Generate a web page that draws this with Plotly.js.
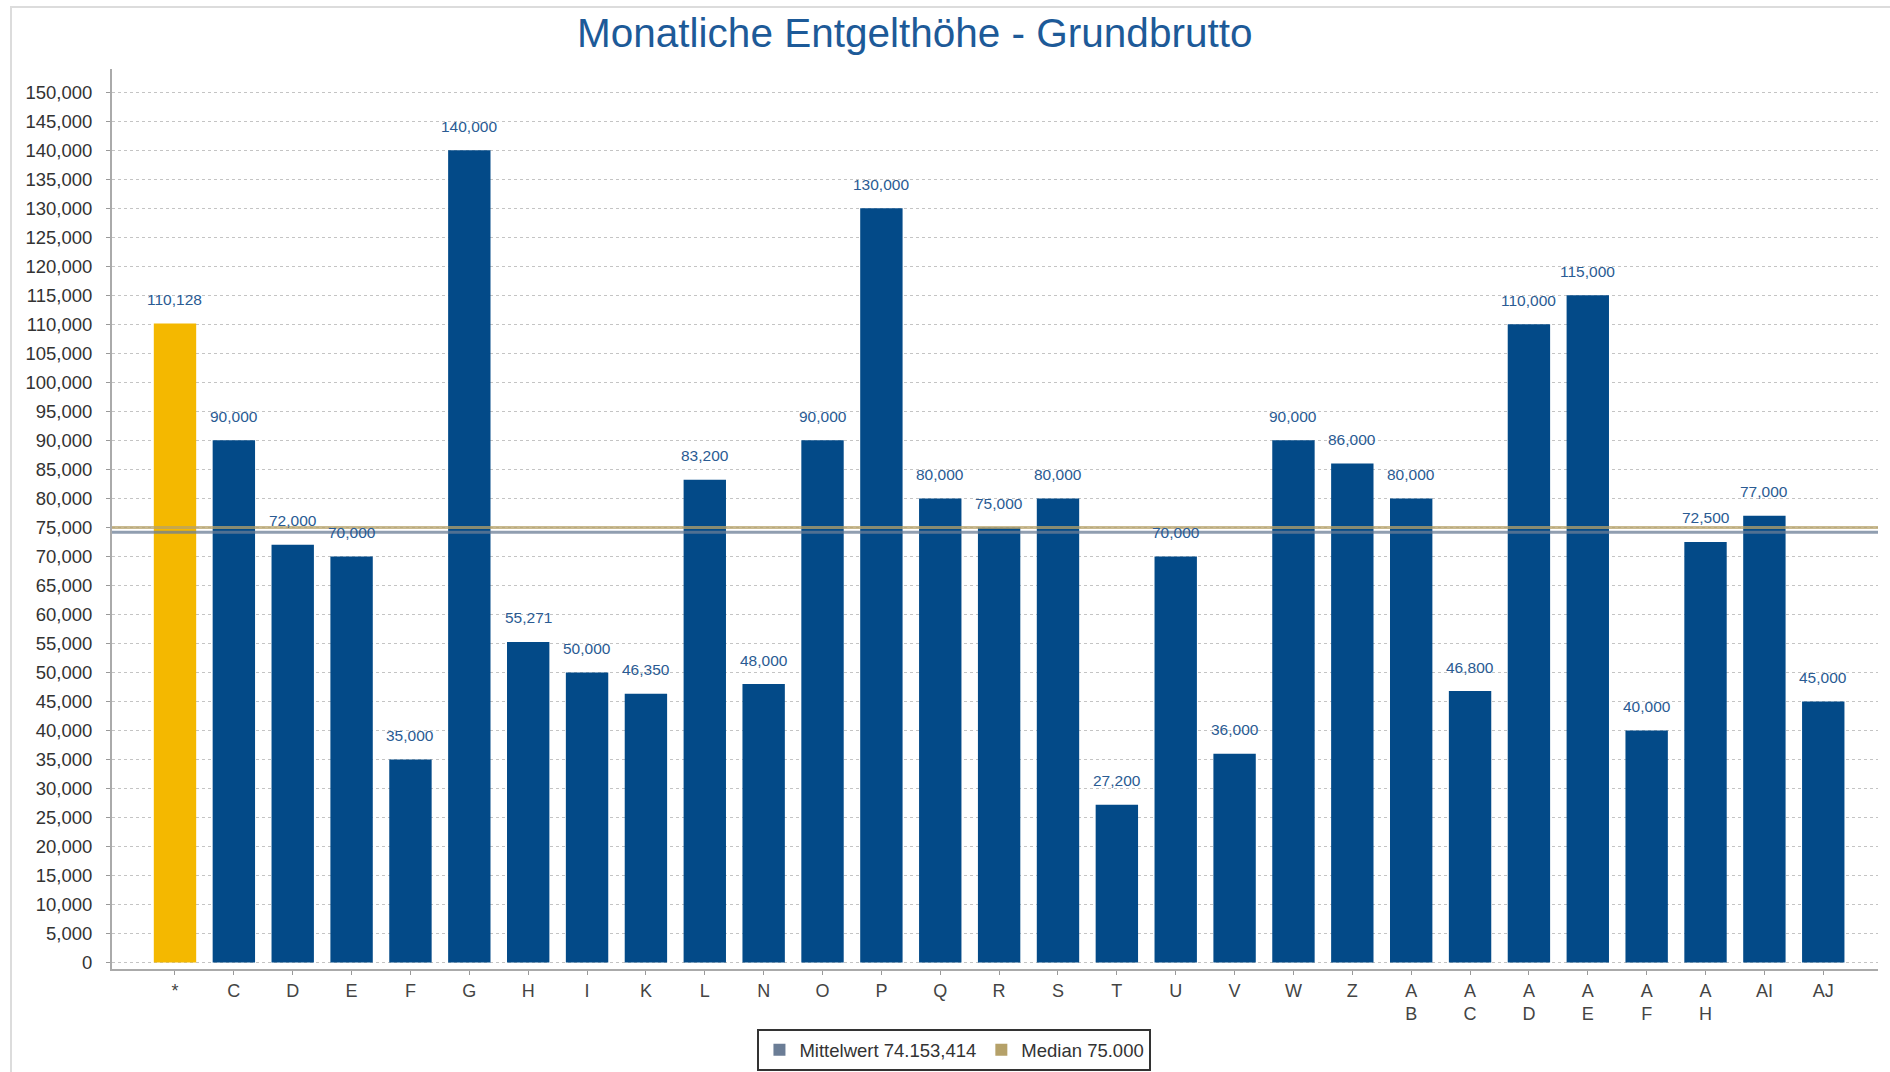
<!DOCTYPE html>
<html>
<head>
<meta charset="utf-8">
<script src="https://cdn.plot.ly/plotly-3.0.1.min.js"></script>
<style>
  html, body { margin: 0; padding: 0; background: #fff; }
  #chart { position: absolute; left: 0; top: 0; width: 1890px; height: 1072px; }
  #frame { position: absolute; left: 10px; top: 6px; width: 1900px; height: 1100px;
           border: 2px solid #dcdcdc; pointer-events: none; }
</style>
</head>
<body>
<div id="chart"></div>
<div id="frame"></div>
<script>
const categories = ["*", "C", "D", "E", "F", "G", "H", "I", "K", "L", "N", "O", "P", "Q", "R",
  "S", "T", "U", "V", "W", "Z", "AB", "AC", "AD", "AE", "AF", "AH", "AI", "AJ"];
const tickLabels = ["*", "C", "D", "E", "F", "G", "H", "I", "K", "L", "N", "O", "P", "Q", "R",
  "S", "T", "U", "V", "W", "Z", "A<br>B", "A<br>C", "A<br>D", "A<br>E", "A<br>F", "A<br>H", "AI", "AJ"];
const salaries = [110128, 90000, 72000, 70000, 35000, 140000, 55271, 50000, 46350, 83200, 48000,
  90000, 130000, 80000, 75000, 80000, 27200, 70000, 36000, 90000, 86000, 80000, 46800, 110000,
  115000, 40000, 72500, 77000, 45000];
const meanValue = 74153.414;
const medianValue = 75000;
const meanLabel = "Mittelwert 74.153,414";
const medianLabel = "Median 75.000";

const fmt = (v) => v.toLocaleString("en-US");
const barColors = categories.map((c, i) => (i === 0 ? "#f4b800" : "#034a88"));

const font = "Liberation Sans, Arial, sans-serif";

const traces = [
  {
    type: "bar",
    x: categories,
    y: salaries,
    width: 0.72,
    marker: { color: barColors },
    showlegend: false,
    hoverinfo: "x+y",
  },
  {
    type: "bar",
    x: [categories[0]],
    y: [null],
    name: meanLabel,
    marker: { color: "#6b7d96" },
  },
  {
    type: "bar",
    x: [categories[0]],
    y: [null],
    name: medianLabel,
    marker: { color: "#b5a169" },
  },
];

const annotations = categories.map((c, i) => ({
  x: c,
  y: salaries[i],
  text: fmt(salaries[i]),
  showarrow: false,
  yshift: 24,
  font: { family: font, size: 15.5, color: "#2a5b93" },
}));

const layout = {
  width: 1890,
  height: 1072,
  paper_bgcolor: "#fff",
  plot_bgcolor: "#fff",
  font: { family: font, size: 18, color: "#333" },
  margin: { l: 112, r: 12, t: 69, b: 103 },
  title: {
    text: "Monatliche Entgelthöhe - Grundbrutto",
    xref: "container",
    x: 0.484,
    xanchor: "center",
    yref: "container",
    y: 0.969,
    yanchor: "middle",
    font: { family: font, size: 40.5, color: "#1d5a98" },
  },
  barmode: "overlay",
  xaxis: {
    type: "category",
    range: [-1.07, 28.93],
    tickvals: categories,
    ticktext: tickLabels,
    showline: true,
    linecolor: "#aaa",
    linewidth: 2,
    ticks: "outside",
    ticklen: 4,
    tickcolor: "#999",
    showgrid: false,
    zeroline: false,
    tickfont: { family: font, size: 18, color: "#444" },
    fixedrange: true,
  },
  yaxis: {
    range: [-1100, 154000],
    tick0: 0,
    dtick: 5000,
    tickformat: ",d",
    showline: true,
    linecolor: "#aaa",
    linewidth: 2,
    ticks: "outside",
    ticklen: 4,
    tickcolor: "#999",
    ticklabelstandoff: 10,
    showgrid: true,
    gridcolor: "#c4c4c4",
    griddash: "dot",
    gridwidth: 1,
    zeroline: false,
    tickfont: { family: font, size: 18.5, color: "#333" },
    fixedrange: true,
  },
  shapes: [
    {
      type: "line", xref: "paper", x0: 0, x1: 1, yref: "y", y0: meanValue, y1: meanValue,
      line: { color: "rgba(107,125,150,0.75)", width: 3 }, layer: "above",
    },
    {
      type: "line", xref: "paper", x0: 0, x1: 1, yref: "y", y0: medianValue, y1: medianValue,
      line: { color: "rgba(181,161,105,0.75)", width: 3 }, layer: "above",
    },
  ],
  annotations: annotations,
  showlegend: true,
  legend: {
    orientation: "h",
    xref: "container",
    x: 0.505,
    xanchor: "center",
    yref: "container",
    y: 0.04,
    yanchor: "top",
    bgcolor: "#fff",
    bordercolor: "#333",
    borderwidth: 2,
    itemwidth: 30,
    font: { family: font, size: 18.5, color: "#333" },
  },
};

Plotly.newPlot("chart", traces, layout, { displayModeBar: false, responsive: false });
</script>
</body>
</html>
